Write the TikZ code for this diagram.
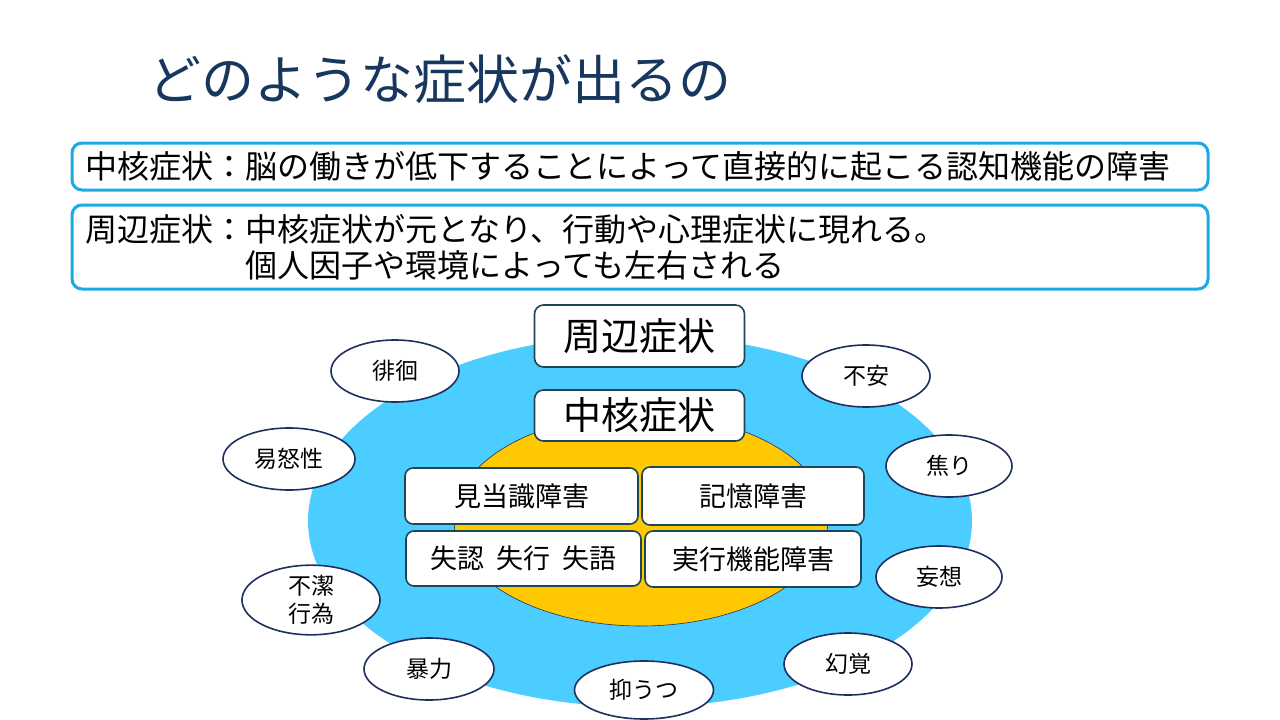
\documentclass[tikz,border=0pt]{standalone}
\usepackage{fontspec}
\setmainfont{Noto Sans CJK JP}
\usetikzlibrary{shapes.geometric}
\definecolor{titlecol}{HTML}{17375E}
\definecolor{cyanb}{HTML}{1CA9E6}
\definecolor{skyb}{HTML}{4BCDFF}
\definecolor{goldy}{HTML}{FFC800}
\definecolor{boxb}{HTML}{1F4656}
\definecolor{ellb}{HTML}{1F2F5F}
\newcommand{\fs}[1]{\fontsize{#1pt}{1.3\dimexpr #1pt\relax}\selectfont}
\begin{document}
\begin{tikzpicture}[x=1pt,y=-1pt,
  defbox/.style={draw=cyanb, line width=3pt, rounded corners=10pt, fill=white,
    inner xsep=12pt, inner ysep=0pt, align=left, font=\fs{32}},
  headbox/.style={draw=boxb, line width=1.6pt, rounded corners=9pt, fill=white,
    minimum width=210pt, inner sep=0pt, font=\fs{38}},
  corebox/.style={draw=boxb, line width=1.6pt, rounded corners=8pt, fill=white,
    inner sep=0pt, font=\fs{27}},
  symell/.style={ellipse, draw=ellb, line width=1.6pt, fill=white, inner sep=0pt,
    minimum width=128pt, minimum height=62pt, align=center, font=\fs{23}}]
\useasboundingbox[fill=white] (0,0) rectangle (1280,720);

% title
\node[anchor=west, inner sep=0pt, text=titlecol, font=\fs{53}] (title) at (148,79) {どのような症状が出るの};

% definition boxes
\node[defbox, minimum width=1136pt, minimum height=47pt, text width=1110pt] (def1) at (640,166.5)
  {中核症状：脳の働きが低下することによって直接的に起こる認知機能の障害};
\node[defbox, minimum width=1136pt, minimum height=84pt, text width=1110pt] (def2) at (640,247)
  {周辺症状：中核症状が元となり、行動や心理症状に現れる。\\[-6pt]\hspace*{5em}個人因子や環境によっても左右される};

% ellipses
\fill[skyb] (640,521) ellipse [x radius=332pt, y radius=186pt];
\fill[goldy, draw=ellb, line width=0.6pt] (641,520) ellipse [x radius=187pt, y radius=106pt];

% header boxes
\node[headbox, minimum height=62pt] (peri) at (639.5,336) {周辺症状};
\node[headbox, minimum height=51pt] (core) at (639.5,415.5) {中核症状};

% core symptom boxes
\node[corebox, minimum width=233pt, minimum height=56pt] (kento) at (521.5,496) {見当識障害};
\node[corebox, minimum width=222pt, minimum height=58pt] (kioku) at (753,496) {記憶障害};
\node[corebox, minimum width=235pt, minimum height=55pt] (shitsu) at (523.5,558.5) {失認\hspace{0.45em}失行\hspace{0.45em}失語};
\node[corebox, minimum width=216pt, minimum height=56pt] (jikko) at (753,559) {実行機能障害};

% peripheral symptoms
\node[symell] (haikai) at (395,371) {徘徊};
\node[symell, minimum width=132pt] (ido) at (289,459) {易怒性};
\node[symell, minimum width=138pt, minimum height=63pt, font=\fontsize{23pt}{28pt}\selectfont] (fuketsu) at (311,600) {不潔\\行為};
\node[symell, minimum width=130pt] (boryoku) at (429,669) {暴力};
\node[symell, minimum width=139pt, minimum height=58pt] (yokuutsu) at (644,690) {抑うつ};
\node[symell] (genkaku) at (848,664) {幻覚};
\node[symell, minimum width=126pt] (moso) at (939,577) {妄想};
\node[symell, minimum width=126pt] (aseri) at (949,466) {焦り};
\node[symell] (fuan) at (866,376) {不安};
\end{tikzpicture}
\end{document}
